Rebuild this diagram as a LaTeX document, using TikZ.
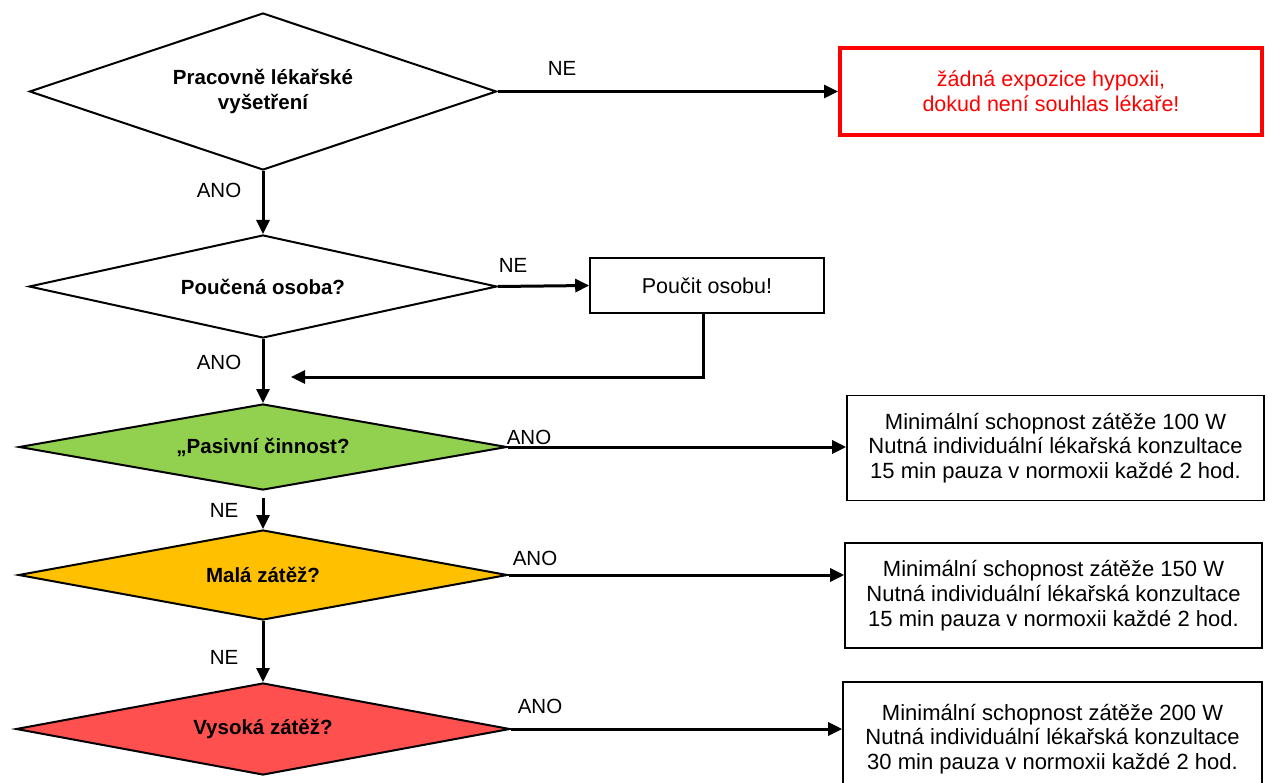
\documentclass[tikz,border=0pt]{standalone}
\usepackage{fontspec}
\setmainfont{Liberation Sans}
\usetikzlibrary{shapes.geometric,arrows.meta}

\definecolor{passivegreen}{HTML}{92D050}
\definecolor{lightorange}{HTML}{FFC000}
\definecolor{highred}{HTML}{FF5050}

\begin{document}
\begin{tikzpicture}[x=1pt,y=-1pt,
  decision/.style={diamond, aspect=5, draw, line width=2pt, inner sep=0pt, align=center,
    font=\bfseries\fontsize{20.5}{25}\selectfont},
  infobox/.style={rectangle, draw, line width=1.6pt, inner sep=0pt, align=center,
    font=\fontsize{22}{24.7}\selectfont},
  flow/.style={line width=3pt, -{Triangle[length=14pt,width=13pt]}},
  lbl/.style={font=\fontsize{20.5}{24}\selectfont, inner sep=0pt}]
\useasboundingbox (0,0) rectangle (1268,783);

% decisions
\node[decision, minimum width=467pt, minimum height=157pt] (d1) at (263,91.5)
  {Pracovně lékařské\\vyšetření};
\node[decision, minimum width=468pt, minimum height=103pt] (d2) at (263,286.5)
  {Poučená osoba?};
\node[decision, fill=passivegreen, minimum width=488pt, minimum height=86pt] (d3) at (263,447)
  {„Pasivní činnost?};
\node[decision, fill=lightorange, minimum width=489pt, minimum height=90pt] (d4) at (263,575)
  {Malá zátěž?};
\node[decision, fill=highred, minimum width=494pt, minimum height=92pt] (d5) at (263,729)
  {Vysoká zátěž?};

% outcome boxes
\node[infobox, draw=red, line width=4pt, text=red, minimum width=422pt, minimum height=87pt,
  font=\fontsize{21.5}{25}\selectfont]
  (warn) at (1051,91.5) {žádná expozice hypoxii,\\dokud není souhlas lékaře!};
\node[infobox, minimum width=234pt, minimum height=55pt, font=\fontsize{21.5}{25}\selectfont]
  (teach) at (707,285.5) {Poučit osobu!};
\node[infobox, minimum width=417pt, minimum height=105pt] (b1) at (1055.5,448)
  {Minimální schopnost zátěže 100 W\\Nutná individuální lékařská konzultace\\15 min pauza v normoxii každé 2 hod.};
\node[infobox, minimum width=417pt, minimum height=105pt] (b2) at (1053.5,595.5)
  {Minimální schopnost zátěže 150 W\\Nutná individuální lékařská konzultace\\15 min pauza v normoxii každé 2 hod.};
\node[infobox, minimum width=419pt, minimum height=114pt] (b3) at (1052.5,739)
  {Minimální schopnost zátěže 200 W\\Nutná individuální lékařská konzultace\\30 min pauza v normoxii každé 2 hod.};

% connectors
\coordinate (back) at (291,377);
\draw[flow] (d1.east) -- (warn.west);
\draw[flow] (d1.south) -- (d2.north);
\draw[flow] (d2.east) -- (teach.west);
\draw[flow] ([xshift=-4pt]teach.south) |- (back);
\draw[flow] (d2.south) -- (d3.north);
\draw[flow] (d3.east) -- (d3.east -| b1.west);
\draw[flow] ([yshift=-7pt]d3.south) -- (d4.north);
\draw[flow] (d4.east) -- (d4.east -| b2.west);
\draw[flow] (d4.south) -- (d5.north);
\draw[flow] (d5.east) -- (d5.east -| b3.west);

% branch labels
\node[lbl] (l1) at (562,68) {NE};
\node[lbl] (l2) at (219,190) {ANO};
\node[lbl] (l3) at (513,265) {NE};
\node[lbl] (l4) at (219,362) {ANO};
\node[lbl] (l5) at (529,437) {ANO};
\node[lbl] (l6) at (224,510) {NE};
\node[lbl] (l7) at (535,558) {ANO};
\node[lbl] (l8) at (224,657) {NE};
\node[lbl] (l9) at (540,706) {ANO};
\end{tikzpicture}
\end{document}
